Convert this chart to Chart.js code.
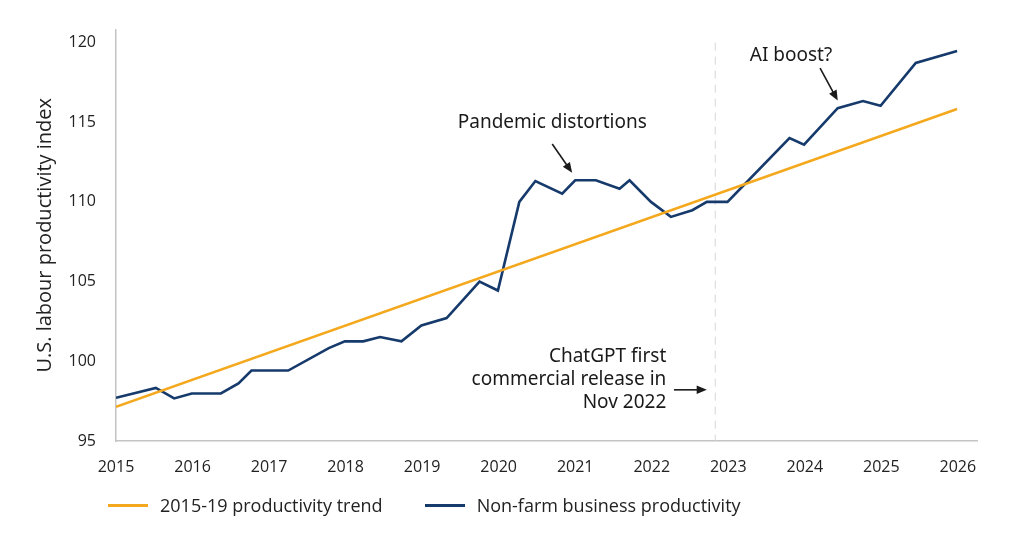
<!DOCTYPE html>
<html>
<head>
<meta charset="utf-8">
<script src="https://cdn.jsdelivr.net/npm/chart.js@4.4.1/dist/chart.umd.min.js"></script>
<style>
    body { margin: 0; background: #fff; }
    #wrap { position: relative; width: 1024px; height: 555px; }
    #legend { position: absolute; left: 108px; top: 493px; display: flex; font-family: "Open Sans", sans-serif; font-size: 18px; color: #222; }
    #legend .item { display: flex; align-items: center; margin-right: 42px; }
    #legend .swatch { width: 40px; height: 3px; margin-right: 12px; }
</style>
</head>
<body>
<div id="wrap">
    <canvas id="productivity"></canvas>
    <div id="legend"></div>
</div>
<script>
// chart values
const yearTicks = [2015, 2016, 2017, 2018, 2019, 2020, 2021, 2022, 2023, 2024, 2025, 2026];
const trendYears = [2015, 2025.99];
const trendValues = [97.14, 115.83];
const productivityYears = [2015, 2015.52, 2015.76, 2015.99, 2016.37, 2016.6, 2016.77, 2017.25, 2017.78, 2017.99,
    2018.23, 2018.45, 2018.73, 2018.99, 2019.32, 2019.75, 2019.99, 2020.27, 2020.48, 2020.83,
    2021.0, 2021.27, 2021.58, 2021.71, 2021.99, 2022.25, 2022.53, 2022.72, 2022.99, 2023.8,
    2023.99, 2024.43, 2024.76, 2024.99, 2025.45, 2025.99];
const productivityValues = [97.71, 98.33, 97.67, 97.98, 97.98, 98.61, 99.42, 99.42, 100.83, 101.25,
    101.25, 101.52, 101.25, 102.25, 102.71, 105.0, 104.44, 110.0, 111.31, 110.52,
    111.36, 111.36, 110.83, 111.36, 110.0, 109.06, 109.48, 110.0, 110.0, 114.0,
    113.59, 115.88, 116.33, 116.03, 118.72, 119.47];
const chatGptRelease = 2022.83;

const orange = '#f4a81d';
const navy = '#163a6b';

function toPoints(xs, ys) {
    return xs.map((x, i) => ({x: x, y: ys[i]}));
}

function drawArrow(ctx, x1, y1, x2, y2) {
    const angle = Math.atan2(y2 - y1, x2 - x1);
    const head = 11;
    ctx.beginPath();
    ctx.moveTo(x1, y1);
    ctx.lineTo(x2 - Math.cos(angle) * head * 0.8, y2 - Math.sin(angle) * head * 0.8);
    ctx.stroke();
    ctx.beginPath();
    ctx.moveTo(x2, y2);
    ctx.lineTo(x2 - head * Math.cos(angle - 0.4), y2 - head * Math.sin(angle - 0.4));
    ctx.lineTo(x2 - head * Math.cos(angle + 0.4), y2 - head * Math.sin(angle + 0.4));
    ctx.closePath();
    ctx.fill();
}

const notes = {
    id: 'notes',
    beforeDatasetsDraw(chart) {
        const {ctx, chartArea, scales: {x}} = chart;
        const px = x.getPixelForValue(chatGptRelease);
        ctx.save();
        ctx.strokeStyle = '#d6d6d6';
        ctx.lineWidth = 1;
        ctx.setLineDash([8, 6]);
        ctx.beginPath();
        ctx.moveTo(px, chartArea.top + 13);
        ctx.lineTo(px, chartArea.bottom);
        ctx.stroke();
        ctx.restore();
    },
    afterDatasetsDraw(chart) {
        const {ctx, scales: {x, y}} = chart;
        ctx.save();
        ctx.fillStyle = '#1a1a1a';
        ctx.strokeStyle = '#1a1a1a';
        ctx.lineWidth = 1.6;
        ctx.font = '19px "Noto Sans", sans-serif';
        ctx.textBaseline = 'middle';

        ctx.textAlign = 'center';
        ctx.fillText('Pandemic distortions', x.getPixelForValue(2020.7), y.getPixelForValue(114.95));
        drawArrow(ctx, x.getPixelForValue(2020.7), y.getPixelForValue(113.63),
            x.getPixelForValue(2020.96), y.getPixelForValue(111.83));

        ctx.fillText('AI boost?', x.getPixelForValue(2023.82), y.getPixelForValue(119.19));
        drawArrow(ctx, x.getPixelForValue(2024.2), y.getPixelForValue(118.39),
            x.getPixelForValue(2024.43), y.getPixelForValue(116.36));

        ctx.textAlign = 'right';
        const rx = x.getPixelForValue(2022.19);
        ctx.fillText('ChatGPT first', rx, y.getPixelForValue(100.31));
        ctx.fillText('commercial release in', rx, y.getPixelForValue(98.88));
        ctx.fillText('Nov 2022', rx, y.getPixelForValue(97.44));
        drawArrow(ctx, x.getPixelForValue(2022.29), y.getPixelForValue(98.21),
            x.getPixelForValue(2022.72), y.getPixelForValue(98.21));
        ctx.restore();
    }
};

const ctx = document.getElementById('productivity');

const chart = new Chart(ctx, {
    type: 'line',
    data: {
        datasets: [{
            label: '2015-19 productivity trend',
            data: toPoints(trendYears, trendValues),
            borderColor: orange,
            backgroundColor: orange,
            borderWidth: 2.5,
            pointRadius: 0,
        }, {
            label: 'Non-farm business productivity',
            data: toPoints(productivityYears, productivityValues),
            borderColor: navy,
            backgroundColor: navy,
            borderWidth: 2.6,
            pointRadius: 0,
            borderJoinStyle: 'miter',
        }]
    },
    options: {
        responsive: true,
        maintainAspectRatio: false,
        animation: false,
        layout: {
            padding: {top: 27, right: 47, bottom: 0, left: 0}
        },
        scales: {
            x: {
                type: 'linear',
                min: 2015,
                max: 2026.25,
                grid: {display: false, drawTicks: false},
                border: {display: true, color: '#c4c4c4', width: 1.5},
                afterBuildTicks: function (scale) {
                    scale.ticks = yearTicks.map(v => ({value: v}));
                },
                afterFit: function (scale) {
                    scale.height = 114;
                },
                ticks: {
                    padding: 17,
                    color: '#222',
                    font: {family: 'Open Sans', size: 16},
                    callback: function (value) {
                        return String(value);
                    }
                }
            },
            y: {
                min: 95,
                max: 120.81,
                grid: {display: false, drawTicks: false},
                border: {display: true, color: '#c4c4c4', width: 1.5},
                afterFit: function (scale) {
                    scale.width = 116;
                },
                ticks: {
                    stepSize: 5,
                    includeBounds: false,
                    padding: 20,
                    color: '#222',
                    font: {family: 'Open Sans', size: 16}
                },
                title: {
                    display: true,
                    text: 'U.S. labour productivity index',
                    color: '#222',
                    font: {family: 'Open Sans', size: 20},
                    padding: {top: 33, bottom: 0}
                }
            }
        },
        plugins: {
            legend: {display: false},
            tooltip: {enabled: false}
        }
    },
    plugins: [notes]
});

// html legend built from the datasets
const legend = document.getElementById('legend');
chart.data.datasets.forEach(function (ds) {
    const item = document.createElement('div');
    item.className = 'item';
    const swatch = document.createElement('span');
    swatch.className = 'swatch';
    swatch.style.background = ds.borderColor;
    const label = document.createElement('span');
    label.textContent = ds.label;
    item.appendChild(swatch);
    item.appendChild(label);
    legend.appendChild(item);
});
</script>
</body>
</html>
